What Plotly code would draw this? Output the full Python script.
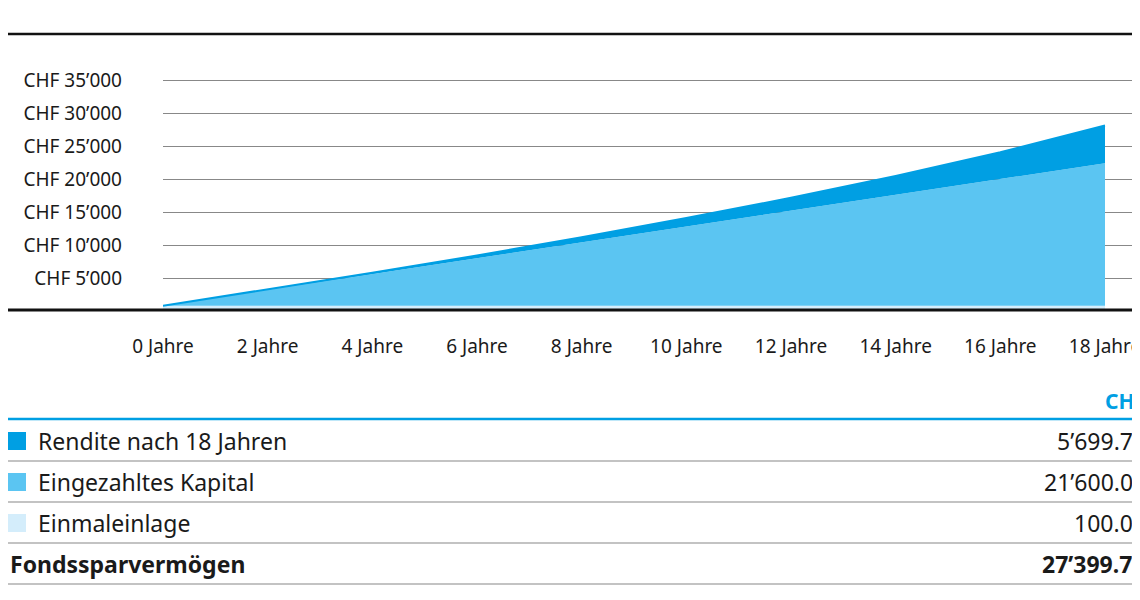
import plotly.graph_objects as go

# Data ------------------------------------------------
years = [0, 2, 4, 6, 8, 10, 12, 14, 16, 18]
einmal = [800] * 10                       # band as drawn in chart
eingezahlt = [0, 2400, 4800, 7200, 9600, 12000, 14400, 16800, 19200, 21600]
rendite = [0, 40, 180, 420, 780, 1280, 1950, 2850, 4050, 5700]
y_ticks = [5000, 10000, 15000, 20000, 25000, 30000, 35000]
y_labels = ["CHF 5’000", "CHF 10’000", "CHF 15’000", "CHF 20’000",
            "CHF 25’000", "CHF 30’000", "CHF 35’000"]
x_labels = [str(y) + " Jahre" for y in years]

table_labels = ["Rendite nach 18 Jahren", "Eingezahltes Kapital", "Einmaleinlage"]
table_values = ["5’699.70", "21’600.00", "100.00"]
total_label = "Fondssparvermögen"
total_value = "27’399.70"

c_dark = "#009fe3"
c_mid = "#5bc5f2"
c_light = "#d4edfb"
font = "Noto Sans"

def py(p):
    return 1 - p / 600

fig = go.Figure()
fig.add_trace(go.Scatter(x=years, y=einmal, stackgroup="a", mode="lines",
                         line=dict(width=0, color=c_light), fillcolor=c_light))
fig.add_trace(go.Scatter(x=years, y=eingezahlt, stackgroup="a", mode="lines",
                         line=dict(width=0, color=c_mid), fillcolor=c_mid))
fig.add_trace(go.Scatter(x=years, y=rendite, stackgroup="a", mode="lines",
                         line=dict(width=2, color=c_dark), fillcolor=c_dark))

ymax = (303 - 26) / 33 * 5000
fig.update_layout(
    width=1140, height=600,
    margin=dict(l=0, r=0, t=0, b=0, autoexpand=False),
    plot_bgcolor="white", paper_bgcolor="white", showlegend=False,
    font=dict(family=font, size=19, color="#1a1a1a"),
    xaxis=dict(domain=[155 / 1140, 1137 / 1140], range=[0, 18 * 982 / 942],
               tickvals=years, ticktext=x_labels, showgrid=False,
               zeroline=False, ticklabelstandoff=22, ticks="", automargin=False),
    yaxis=dict(domain=[py(303), py(26)], range=[0, ymax], tickvals=y_ticks,
               ticktext=y_labels, showgrid=True,
               gridcolor="#888888", gridwidth=1, zeroline=False,
               ticklabelstandoff=40, ticks="", automargin=False),
)

# Frame lines
fig.add_shape(type="line", xref="paper", yref="paper", x0=0, x1=1, y0=py(26), y1=py(26),
              line=dict(color="#111111", width=2.5))
fig.add_shape(type="line", xref="paper", yref="paper", x0=0, x1=1, y0=py(302), y1=py(302),
              line=dict(color="#111111", width=3))

# Table -----------------------------------------------
fig.add_annotation(xref="paper", yref="paper", x=1, y=py(393), text="<b>CHF</b>",
                   showarrow=False, xanchor="right", yanchor="middle",
                   font=dict(color=c_dark, size=21))
fig.add_shape(type="line", xref="paper", yref="paper", x0=0, x1=1, y0=py(411), y1=py(411),
              line=dict(color=c_dark, width=2.5))
row_y = [433, 474, 515, 556]
line_y = [453, 494, 535, 576]
colors = [c_dark, c_mid, c_light]
for i in range(3):
    fig.add_shape(type="rect", xref="paper", yref="paper", x0=0, x1=18 / 1140,
                  y0=py(row_y[i] + 9), y1=py(row_y[i] - 9), fillcolor=colors[i], line_width=0)
    fig.add_annotation(xref="paper", yref="paper", x=28 / 1140, y=py(row_y[i]),
                       text=table_labels[i], showarrow=False, xanchor="left",
                       yanchor="middle", font=dict(size=23))
    fig.add_annotation(xref="paper", yref="paper", x=1, y=py(row_y[i]),
                       text=table_values[i], showarrow=False, xanchor="right",
                       yanchor="middle", font=dict(size=23))
fig.add_annotation(xref="paper", yref="paper", x=0, y=py(row_y[3]),
                   text="<b>" + total_label + "</b>", showarrow=False, xanchor="left",
                   yanchor="middle", font=dict(size=23))
fig.add_annotation(xref="paper", yref="paper", x=1, y=py(row_y[3]),
                   text="<b>" + total_value + "</b>", showarrow=False, xanchor="right",
                   yanchor="middle", font=dict(size=23))
for ly in line_y:
    fig.add_shape(type="line", xref="paper", yref="paper", x0=0, x1=1, y0=py(ly), y1=py(ly),
                  line=dict(color="#888888", width=1.2))

fig.write_html("out.html")
